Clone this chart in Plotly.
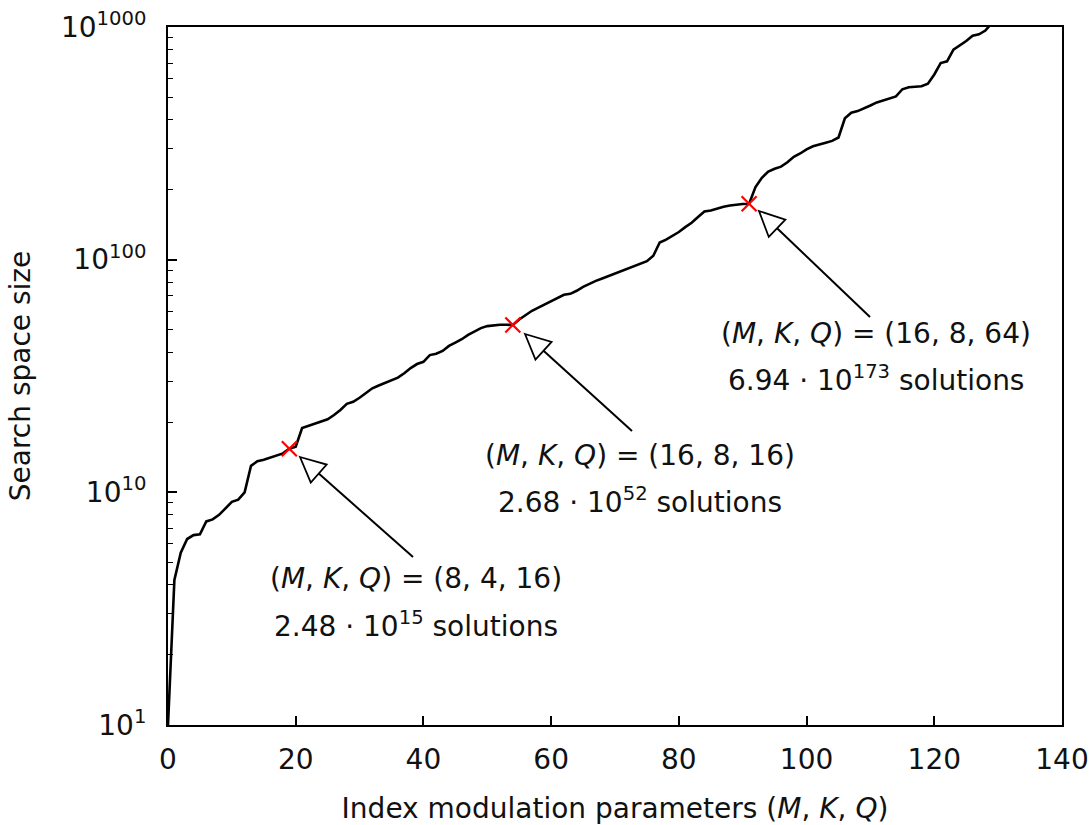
import plotly.graph_objects as go

# ---------------- data ----------------
param_index = list(range(0, 131))
# log10 of the search-space size (i.e. the exponent)
log10_search_space = [
    1.0, 4.2, 5.5, 6.3, 6.55, 6.6, 7.5, 7.65, 8.0, 8.5,
    9.1, 9.3, 10.0, 13.0, 13.6, 13.8, 14.1, 14.3, 14.7, 15.394,
    15.7, 18.9, 19.3, 19.8, 20.1, 20.6, 21.5, 22.6, 24.0, 24.5,
    25.5, 26.8, 28.0, 28.8, 29.6, 30.4, 31.1, 32.5, 34.2, 35.6,
    36.4, 38.9, 39.4, 40.5, 42.6, 44.0, 45.5, 47.5, 49.2, 50.8,
    51.8, 52.2, 52.5, 52.5, 52.428, 55.3, 57.6, 60.3, 62.2, 64.3,
    66.4, 68.5, 70.6, 71.3, 73.5, 76.4, 78.9, 81.1, 83.0, 85.0,
    87.0, 89.2, 91.3, 93.5, 95.7, 98.5, 104.0, 118.5, 122.0, 126.8,
    131.5, 138.0, 144.0, 152.5, 161.0, 162.8, 166.0, 169.0, 170.8, 172.5,
    173.5, 173.841, 205.0, 225.0, 239.0, 246.0, 251.0, 262.0, 277.0, 286.0,
    298.0, 307.0, 313.5, 318.0, 324.0, 335.0, 405.0, 428.0, 435.0, 446.0,
    460.0, 474.0, 483.0, 495.0, 503.0, 540.0, 551.0, 554.0, 556.0, 570.0,
    625.0, 700.0, 712.0, 800.0, 835.0, 870.0, 918.0, 930.0, 965.0, 1040.0,
    1090.0,
]

highlight_index = [19, 54, 91]
highlight_log10 = [15.394, 52.428, 173.841]
highlight_params = ["(8, 4, 16)", "(16, 8, 16)", "(16, 8, 64)"]
highlight_mantissa = ["2.48", "2.68", "6.94"]
highlight_exponent = ["15", "52", "173"]

x_tick_values = [0, 20, 40, 60, 80, 100, 120, 140]
y_tick_exponents = [1, 10, 100, 1000]
y_minor_exponents = [2, 3, 4, 5, 6, 7, 8, 9,
                     20, 30, 40, 50, 60, 70, 80, 90,
                     200, 300, 400, 500, 600, 700, 800, 900]

# ---------------- layout constants (pixels) ----------------
W, H = 1092, 825
L_M, R_M, T_M, B_M = 168, 30, 27, 100
PW, PH = W - L_M - R_M, H - T_M - B_M
FONT = "DejaVu Sans"
FS = 28
TXT = "#111111"


def px2paper(px, py):
    return (px - L_M) / PW, (H - B_M - py) / PH


# text label placement (pixel centres) and arrows (tail, tip) in pixels
label_line1_px = [(416, 578), (640, 455), (876, 333)]
label_line2_px = [(416, 624), (640, 500), (876, 378)]
arrow_tail_px = [(413, 557), (632, 431), (870, 317)]
arrow_tip_px = [(300, 457), (525, 334), (759, 211)]
HEAD_LEN, HEAD_HALF = 25, 12

fig = go.Figure()
fig.add_trace(go.Scatter(
    x=param_index, y=log10_search_space, mode="lines",
    line=dict(color="black", width=2.6), hoverinfo="skip"))
fig.add_trace(go.Scatter(
    x=highlight_index, y=highlight_log10, mode="markers",
    marker=dict(symbol="x-thin", size=15, color="red",
                line=dict(color="red", width=2.2)), hoverinfo="skip"))

shapes = []
annotations = []
for i in range(3):
    (tx, ty), (hx, hy) = arrow_tail_px[i], arrow_tip_px[i]
    dx, dy = hx - tx, hy - ty
    n = (dx * dx + dy * dy) ** 0.5
    ux, uy = dx / n, dy / n
    bx, by = hx - ux * HEAD_LEN, hy - uy * HEAD_LEN
    px_, py_ = -uy, ux
    v1 = (bx + px_ * HEAD_HALF, by + py_ * HEAD_HALF)
    v2 = (bx - px_ * HEAD_HALF, by - py_ * HEAD_HALF)
    a0 = px2paper(tx, ty)
    a1 = px2paper(bx, by)
    shapes.append(dict(type="line", xref="paper", yref="paper",
                       x0=a0[0], y0=a0[1], x1=a1[0], y1=a1[1],
                       line=dict(color="black", width=2)))
    pts = [px2paper(hx, hy), px2paper(*v1), px2paper(*v2)]
    path = "M {:.5f} {:.5f} L {:.5f} {:.5f} L {:.5f} {:.5f} Z".format(
        pts[0][0], pts[0][1], pts[1][0], pts[1][1], pts[2][0], pts[2][1])
    shapes.append(dict(type="path", xref="paper", yref="paper", path=path,
                       fillcolor="white", line=dict(color="black", width=1.8)))

    p1 = px2paper(*label_line1_px[i])
    p2 = px2paper(*label_line2_px[i])
    annotations.append(dict(
        xref="paper", yref="paper", x=p1[0], y=p1[1], showarrow=False,
        xanchor="center", yanchor="middle",
        text="(<i>M</i>, <i>K</i>, <i>Q</i>) = " + highlight_params[i],
        font=dict(family=FONT, size=FS, color=TXT)))
    annotations.append(dict(
        xref="paper", yref="paper", x=p2[0], y=p2[1], showarrow=False,
        xanchor="center", yanchor="middle",
        text=highlight_mantissa[i] + " · 10<sup>" + highlight_exponent[i] + "</sup> solutions",
        font=dict(family=FONT, size=FS, color=TXT)))

fig.update_layout(
    width=W, height=H,
    margin=dict(l=L_M, r=R_M, t=T_M, b=B_M, autoexpand=False),
    paper_bgcolor="white", plot_bgcolor="white",
    showlegend=False,
    font=dict(family=FONT, size=FS, color=TXT),
    shapes=shapes, annotations=annotations,
)
fig.update_xaxes(
    range=[0, 140], tickmode="array", tickvals=x_tick_values,
    ticks="inside", ticklen=9, tickwidth=1.5, tickcolor="black",
    ticklabelstandoff=8,
    showline=True, linewidth=2, linecolor="black", mirror=True,
    showgrid=False, zeroline=False, automargin=False,
    tickfont=dict(family=FONT, size=FS, color=TXT),
    title=dict(text="Index modulation parameters (<i>M</i>, <i>K</i>, <i>Q</i>)",
               font=dict(family=FONT, size=FS, color=TXT), standoff=26),
)
fig.update_yaxes(
    type="log", range=[0, 3], tickmode="array",
    tickvals=y_tick_exponents,
    ticktext=["10<sup>%d</sup>" % e for e in y_tick_exponents],
    ticks="inside", ticklen=9, tickwidth=1.5, tickcolor="black",
    ticklabelstandoff=14,
    minor=dict(tickmode="array", tickvals=y_minor_exponents, ticks="inside",
               ticklen=5, tickwidth=1.2, tickcolor="black", showgrid=False),
    showline=True, linewidth=2, linecolor="black", mirror=True,
    showgrid=False, zeroline=False, automargin=False,
    tickfont=dict(family=FONT, size=FS, color=TXT),
    title=dict(text="Search space size",
               font=dict(family=FONT, size=FS, color=TXT), standoff=22),
)

fig.write_html(
    "out.html",
    config={"displayModeBar": False},
    post_script="document.body.style.margin='0';document.body.style.overflow='hidden';",
)
